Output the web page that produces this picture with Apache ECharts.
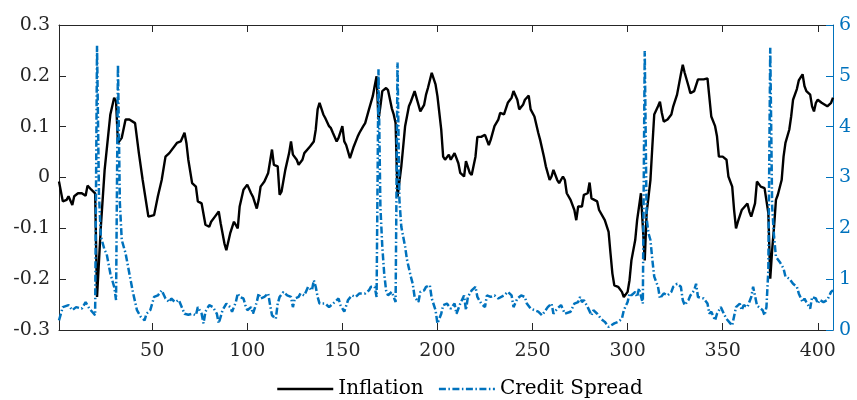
<!DOCTYPE html>
<html>
<head>
<meta charset="utf-8">
<script src="https://cdn.jsdelivr.net/npm/echarts@6/dist/echarts.min.js"></script>
<style>
  html, body { margin: 0; padding: 0; background: #fff; }
  #chart { width: 857px; height: 400px; }
</style>
</head>
<body>
<div id="chart"></div>
<script>
// inflation as [index, value]
const inflX = [1, 3, 5, 6, 8, 9, 11, 13, 15, 16, 18, 20, 21, 23, 25, 28, 30, 31, 32, 34,
  36, 38, 41, 43, 45, 48, 51, 53, 55, 57, 59, 60, 63, 65, 67, 68, 69, 71, 73, 74,
  76, 78, 80, 81, 83, 85, 86, 88, 89, 91, 93, 95, 96, 98, 100, 102, 103, 105, 106, 107,
  109, 111, 113, 114, 116, 117, 118, 120, 122, 123, 124, 126, 127, 129, 130, 131, 133, 135, 136, 137,
  138, 140, 141, 143, 144, 145, 147, 148, 150, 151, 152, 154, 156, 158, 159, 161, 162, 164, 166, 167,
  168, 169, 170, 171, 173, 174, 176, 177, 178, 179, 181, 182, 183, 185, 186, 188, 191, 193, 194, 195,
  197, 199, 200, 202, 203, 204, 206, 207, 209, 211, 212, 214, 215, 217, 218, 220, 221, 223, 225, 227,
  228, 230, 232, 233, 235, 237, 239, 240, 242, 243, 245, 246, 248, 249, 251, 253, 254, 256, 257, 259,
  260, 261, 263, 264, 266, 267, 268, 270, 272, 273, 274, 276, 277, 279, 280, 281, 284, 285, 288, 290,
  291, 292, 293, 295, 297, 298, 300, 301, 302, 304, 305, 307, 308, 309, 310, 312, 313, 314, 316, 317,
  318, 319, 321, 323, 324, 326, 328, 329, 330, 332, 333, 335, 337, 338, 340, 342, 343, 344, 346, 347,
  348, 350, 352, 353, 355, 356, 357, 358, 360, 361, 363, 364, 365, 367, 368, 370, 372, 373, 374, 375,
  376, 377, 378, 379, 381, 382, 383, 385, 386, 387, 389, 390, 392, 393, 394, 396, 397, 398, 399, 400,
  402, 403, 405, 407, 408];
const inflY = [-0.008, -0.047, -0.044, -0.037, -0.054, -0.037, -0.031, -0.031, -0.036, -0.016, -0.024, -0.031, -0.235, -0.097, 0.015, 0.124, 0.157, 0.150, 0.068, 0.078,
  0.114, 0.114, 0.107, 0.048, -0.005, -0.077, -0.074, -0.037, -0.005, 0.041, 0.048, 0.051, 0.068, 0.071, 0.088, 0.068, 0.035, -0.011, -0.018, -0.047,
  -0.051, -0.093, -0.097, -0.087, -0.077, -0.067, -0.090, -0.130, -0.143, -0.110, -0.087, -0.100, -0.057, -0.024, -0.014, -0.031, -0.038, -0.061, -0.044, -0.018,
  -0.008, 0.009, 0.055, 0.025, 0.022, -0.034, -0.028, 0.015, 0.048, 0.071, 0.045, 0.035, 0.025, 0.035, 0.048, 0.051, 0.061, 0.071, 0.094, 0.134,
  0.147, 0.124, 0.117, 0.101, 0.097, 0.088, 0.071, 0.078, 0.101, 0.071, 0.064, 0.038, 0.061, 0.080, 0.088, 0.101, 0.107, 0.134, 0.160, 0.180,
  0.199, 0.114, 0.140, 0.170, 0.176, 0.172, 0.136, 0.124, 0.107, -0.038, 0.022, 0.061, 0.101, 0.140, 0.149, 0.170, 0.130, 0.143, 0.163, 0.176,
  0.206, 0.183, 0.160, 0.094, 0.041, 0.035, 0.045, 0.035, 0.048, 0.028, 0.009, 0.002, 0.032, 0.009, 0.005, 0.041, 0.080, 0.080, 0.084, 0.064,
  0.074, 0.101, 0.114, 0.127, 0.124, 0.147, 0.157, 0.170, 0.153, 0.134, 0.143, 0.153, 0.161, 0.134, 0.120, 0.088, 0.074, 0.041, 0.022, -0.005,
  0.002, 0.015, -0.005, -0.011, 0.002, -0.005, -0.031, -0.044, -0.064, -0.084, -0.057, -0.057, -0.034, -0.031, -0.010, -0.041, -0.047, -0.064, -0.084, -0.107,
  -0.149, -0.189, -0.212, -0.215, -0.225, -0.235, -0.225, -0.202, -0.163, -0.123, -0.084, -0.031, -0.028, -0.163, -0.070, -0.005, 0.061, 0.124, 0.140, 0.149,
  0.127, 0.110, 0.114, 0.124, 0.140, 0.163, 0.203, 0.222, 0.206, 0.180, 0.166, 0.170, 0.193, 0.196, 0.193, 0.195, 0.194, 0.120, 0.101, 0.081,
  0.041, 0.041, 0.035, 0.002, -0.018, -0.064, -0.100, -0.087, -0.064, -0.064, -0.051, -0.067, -0.077, -0.051, -0.008, -0.018, -0.021, -0.024, -0.070, -0.199,
  -0.143, -0.097, -0.044, -0.034, -0.005, 0.041, 0.068, 0.094, 0.120, 0.153, 0.174, 0.191, 0.203, 0.180, 0.170, 0.163, 0.140, 0.130, 0.147, 0.153,
  0.147, 0.150, 0.140, 0.147, 0.157];

// credit spread (right axis)
const spreadX = [1, 3, 4, 6, 8, 10, 11, 13, 15, 17, 18, 20, 21, 22, 23, 25, 26, 28, 30, 31,
  32, 33, 34, 36, 38, 40, 42, 44, 46, 47, 49, 51, 53, 55, 57, 59, 60, 62, 64, 67,
  69, 71, 73, 74, 76, 77, 78, 80, 82, 84, 85, 87, 89, 91, 92, 94, 95, 96, 98, 99,
  100, 102, 103, 105, 106, 107, 109, 111, 112, 113, 115, 116, 117, 119, 121, 123, 124, 125, 127, 128,
  130, 132, 134, 135, 136, 137, 138, 139, 141, 143, 144, 146, 148, 149, 151, 152, 153, 155, 157, 159,
  160, 162, 164, 165, 167, 168, 169, 170, 171, 172, 173, 174, 176, 177, 178, 179, 180, 181, 183, 184,
  186, 187, 188, 190, 191, 193, 194, 196, 197, 199, 200, 202, 203, 205, 206, 207, 209, 210, 212, 214,
  215, 216, 218, 220, 221, 223, 225, 226, 228, 230, 232, 233, 235, 237, 239, 240, 242, 244, 246, 247,
  249, 251, 253, 255, 256, 258, 260, 261, 263, 265, 267, 268, 270, 272, 274, 275, 276, 277, 279, 281,
  282, 284, 286, 288, 290, 291, 293, 295, 297, 298, 300, 301, 302, 304, 305, 306, 308, 309, 310, 311,
  312, 313, 314, 316, 317, 319, 321, 323, 324, 326, 328, 329, 330, 332, 333, 335, 336, 337, 338, 340,
  342, 343, 344, 346, 347, 349, 351, 352, 354, 355, 357, 359, 360, 361, 363, 365, 366, 368, 369, 371,
  372, 373, 374, 375, 376, 377, 378, 380, 382, 383, 385, 387, 389, 390, 392, 393, 394, 396, 397, 399,
  400, 401, 403, 405, 407, 408];
const spreadY = [0.19, 0.45, 0.42, 0.49, 0.39, 0.45, 0.44, 0.42, 0.55, 0.42, 0.39, 0.29, 5.59, 2.69, 1.84, 1.57, 1.51, 1.11, 0.85, 0.59,
  5.22, 2.5, 1.77, 1.51, 1.11, 0.72, 0.39, 0.26, 0.19, 0.32, 0.39, 0.65, 0.68, 0.78, 0.62, 0.55, 0.62, 0.55, 0.59, 0.32,
  0.3, 0.32, 0.29, 0.45, 0.32, 0.13, 0.36, 0.49, 0.45, 0.32, 0.13, 0.39, 0.52, 0.45, 0.36, 0.55, 0.72, 0.65, 0.62, 0.49,
  0.39, 0.45, 0.32, 0.55, 0.72, 0.62, 0.65, 0.72, 0.49, 0.29, 0.22, 0.52, 0.65, 0.75, 0.68, 0.65, 0.45, 0.62, 0.65, 0.72,
  0.68, 0.85, 0.78, 0.98, 0.85, 0.65, 0.52, 0.49, 0.52, 0.45, 0.45, 0.55, 0.62, 0.49, 0.36, 0.39, 0.59, 0.68, 0.65, 0.72,
  0.75, 0.72, 0.78, 0.85, 0.85, 0.65, 5.13, 2.43, 1.64, 1.11, 0.78, 0.68, 0.75, 0.65, 0.55, 5.26, 2.56, 2.03, 1.64, 1.38,
  1.05, 0.91, 0.65, 0.55, 0.75, 0.78, 0.85, 0.88, 0.62, 0.39, 0.13, 0.32, 0.49, 0.52, 0.49, 0.42, 0.52, 0.32, 0.52, 0.68,
  0.39, 0.65, 0.78, 0.85, 0.65, 0.52, 0.45, 0.68, 0.65, 0.68, 0.62, 0.65, 0.68, 0.75, 0.68, 0.45, 0.62, 0.68, 0.65, 0.52,
  0.42, 0.39, 0.36, 0.29, 0.32, 0.45, 0.52, 0.32, 0.42, 0.49, 0.32, 0.29, 0.36, 0.52, 0.55, 0.65, 0.55, 0.59, 0.45, 0.29,
  0.39, 0.32, 0.22, 0.16, 0.06, 0.06, 0.13, 0.16, 0.22, 0.39, 0.55, 0.72, 0.68, 0.75, 0.65, 0.82, 0.52, 5.49, 2.2, 1.9,
  1.77, 1.38, 1.05, 0.85, 0.62, 0.72, 0.68, 0.75, 0.85, 0.91, 0.85, 0.59, 0.49, 0.59, 0.68, 0.78, 0.91, 0.65, 0.65, 0.62,
  0.52, 0.32, 0.36, 0.19, 0.32, 0.45, 0.29, 0.22, 0.13, 0.09, 0.45, 0.52, 0.39, 0.49, 0.45, 0.65, 0.85, 0.49, 0.45, 0.39,
  0.29, 0.45, 1.18, 5.55, 2.43, 1.84, 1.44, 1.34, 1.21, 1.05, 1.01, 0.91, 0.85, 0.72, 0.55, 0.62, 0.55, 0.42, 0.65, 0.62,
  0.52, 0.59, 0.55, 0.59, 0.75, 0.78];

const xTicks = [50, 100, 150, 200, 250, 300, 350, 400];
const axisColor = '#262626';
const blue = '#0072BD';
const font = 'DejaVu Serif';

const chart = echarts.init(document.getElementById('chart'), null, { renderer: 'canvas' });

const xCommon = {
  type: 'value',
  min: 1,
  max: 408,
  splitLine: { show: false },
  axisLine: { show: true, onZero: false, lineStyle: { color: axisColor, width: 1 } },
  axisTick: { show: true, inside: true, length: 7, customValues: xTicks, lineStyle: { color: axisColor } }
}

const option = {
  animation: false,
  grid: { left: 59, right: 24, top: 25, bottom: 70, containLabel: false },
  legend: {
    left: 271,
    top: 374,
    itemWidth: 56,
    itemHeight: 14,
    itemGap: 14,
    // hide the marker circle so only the line sample shows
    itemStyle: { opacity: 0 },
    lineStyle: { width: 2.5 },
    textStyle: { fontFamily: font, fontSize: 20, color: '#000' },
    data: ['Inflation', 'Credit Spread']
  },
  xAxis: [
    Object.assign({}, xCommon, {
      position: 'bottom',
      axisLabel: { customValues: xTicks, fontFamily: font, fontSize: 19, color: axisColor, margin: 12 }
    }),
    Object.assign({}, xCommon, {
      position: 'top',
      axisLabel: { show: false }
    })
  ],
  yAxis: [
    {
      type: 'value',
      position: 'left',
      min: -0.3,
      max: 0.3,
      interval: 0.1,
      splitLine: { show: false },
      axisLine: { show: true, lineStyle: { color: axisColor } },
      axisTick: { show: true, inside: true, length: 7, lineStyle: { color: axisColor } },
      axisLabel: {
        fontFamily: font, fontSize: 19, color: axisColor, margin: 9,
        formatter: function(v) {
          const r = Math.round(v * 10) / 10
          return String(r)
        }
      }
    },
    {
      type: 'value',
      position: 'right',
      min: 0,
      max: 6,
      interval: 1,
      splitLine: { show: false },
      axisLine: { show: true, lineStyle: { color: blue } },
      axisTick: { show: true, inside: true, length: 7, lineStyle: { color: blue } },
      axisLabel: { fontFamily: font, fontSize: 19, color: blue, margin: 6 }
    }
  ],
  series: [
    {
      name: 'Inflation',
      type: 'line',
      xAxisIndex: 0,
      yAxisIndex: 0,
      symbol: 'none',
      data: inflX.map((x, i) => [x, inflY[i]]),
      lineStyle: { color: '#000', width: 2.4 },
      itemStyle: { color: '#000' }
    },
    {
      name: 'Credit Spread',
      type: 'line',
      xAxisIndex: 0,
      yAxisIndex: 1,
      symbol: 'none',
      data: spreadX.map((x, i) => [x, spreadY[i]]),
      lineStyle: { color: blue, width: 2.5, type: [7, 2.5, 1.5, 2.5] },
      itemStyle: { color: blue }
    }
  ]
}

chart.setOption(option)
</script>
</body>
</html>
